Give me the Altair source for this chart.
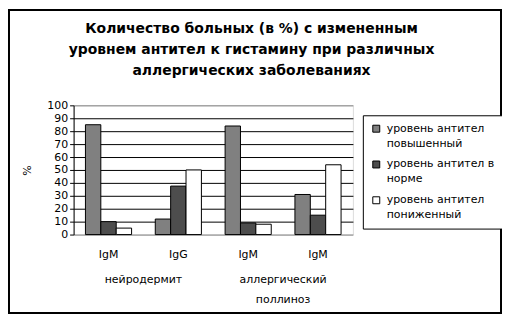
import altair as alt
import pandas as pd

# ---- data ----
ig_labels = ["IgM", "IgG", "IgM", "IgM"]
series = ["уровень антител повышенный", "уровень антител в норме", "уровень антител пониженный"]
raised = [85, 12, 84, 31]
normal = [10, 37.5, 9, 15]
lowered = [5, 50, 8, 54]
diseases = ["нейродермит", "аллергический\nполлиноз"]
disease_after = [0, 2]  # disease label sits after position index (between pairs)
colors = ["#808080", "#4d4d4d", "#ffffff"]
title_lines = ["Количество больных (в %) с измененным",
               "уровнем антител к гистамину при различных",
               "аллергических заболеваниях"]

positions = [f"{lab} {i + 1}" for i, lab in enumerate(ig_labels)]

rows = []
for s, vals in zip(series, [raised, normal, lowered]):
    for p, v in zip(positions, vals):
        rows.append({"pos": p, "series": s, "value": v})
df = pd.DataFrame(rows)

lab_df = pd.DataFrame({"pos": [positions[i] for i in disease_after], "label": diseases})
title_df = pd.DataFrame({"t": ["\n".join(title_lines)]})

FONT = "DejaVu Sans"

x_enc = alt.X("pos:N", sort=positions,
              scale=alt.Scale(paddingInner=0, paddingOuter=0),
              axis=alt.Axis(title=None, labelAngle=0, ticks=False, domain=False,
                            labelExpr="split(datum.label, ' ')[0]",
                            labelFont=FONT, labelFontSize=11, labelColor="black",
                            labelPadding=14))

bars = alt.Chart(df).mark_bar(stroke="black", strokeWidth=1).encode(
    x=x_enc,
    xOffset=alt.XOffset("series:N", sort=series,
                        scale=alt.Scale(domain=series, paddingInner=0, paddingOuter=0.77)),
    y=alt.Y("value:Q", scale=alt.Scale(domain=[0, 100], nice=False),
            axis=alt.Axis(values=list(range(0, 101, 10)), grid=True,
                          gridColor=alt.condition("datum.value == 0 || datum.value == 100",
                                                  alt.value("#808080"), alt.value("black")),
                          domainColor="black", tickColor="black", tickSize=4,
                          labelFont=FONT, labelFontSize=11, labelColor="black", labelPadding=2,
                          title="%", titleFont=FONT, titleFontSize=11, titleFontWeight="normal",
                          titleColor="black", titleX=-41, titleY=65)),
    color=alt.Color("series:N", sort=series,
                    scale=alt.Scale(domain=series, range=colors),
                    legend=alt.Legend(title=None, orient="none", legendX=291, legendY=10,
                                      strokeColor="black", padding=8, fillColor="white",
                                      symbolType="square", symbolSize=49,
                                      symbolStrokeColor="black", symbolStrokeWidth=1,
                                      labelFont=FONT, labelFontSize=11, labelColor="black",
                                      labelLimit=200, rowPadding=9, labelOffset=5,
                                      labelExpr="[slice(datum.label, 0, lastindexof(datum.label, ' ')), slice(datum.label, lastindexof(datum.label, ' ') + 1)]")),
)

group_text = alt.Chart(lab_df).mark_text(
    font=FONT, fontSize=11, color="black", baseline="top", align="center",
    lineBreak="\n", lineHeight=20
).encode(
    x=alt.X("pos:N", sort=positions, bandPosition=1),
    y=alt.value(170),
    text="label:N",
)

title_text = alt.Chart(title_df).mark_text(
    font=FONT, fontSize=14, fontWeight="bold", color="black", baseline="top",
    align="center", lineBreak="\n", lineHeight=21
).encode(
    x=alt.value(179), y=alt.value(-84), text="t:N"
)

frame = alt.Chart(pd.DataFrame({"k": [0]})).mark_rect(
    fill="white", fillOpacity=0, stroke="black", strokeWidth=2
).encode(
    x=alt.value(-65), x2=alt.value(430), y=alt.value(-96), y2=alt.value(209)
)

chart = alt.layer(bars, group_text, title_text, frame).properties(
    width=281, height=130,
    autosize=alt.AutoSizeParams(type="none"),
    padding={"left": 66, "top": 97, "right": 150, "bottom": 80},
).configure_view(stroke="#808080", strokeWidth=1).configure(
    background="white", style={"guide-label": {"lineHeight": 15}}
)

chart.save("out.html", embed_options={"renderer": "svg", "actions": False})
